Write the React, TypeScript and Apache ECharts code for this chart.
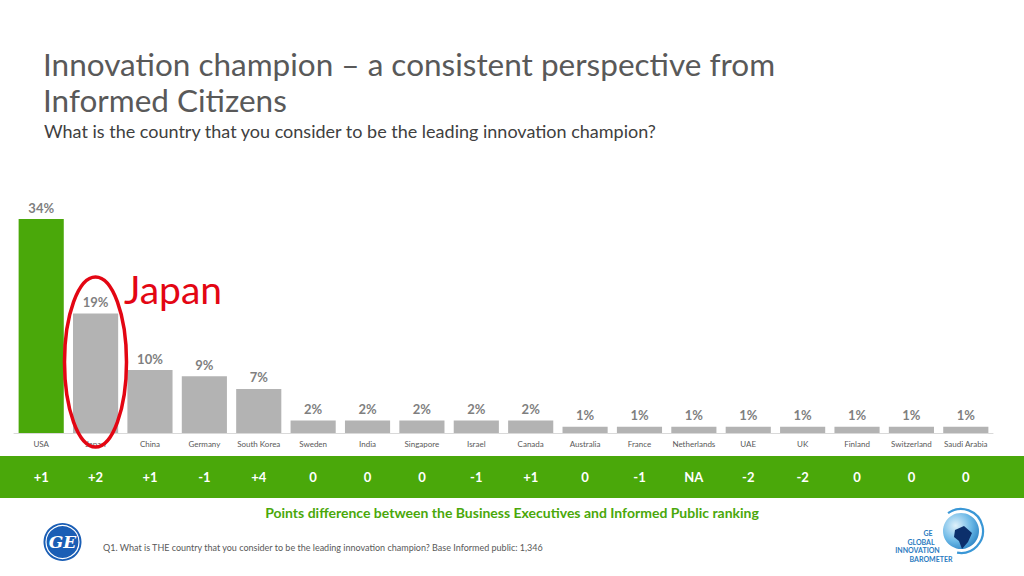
import React, { useEffect, useRef } from "react";
import * as echarts from "echarts";

const countries = ["USA", "Japan", "China", "Germany", "South Korea", "Sweden", "India", "Singapore", "Israel", "Canada", "Australia", "France", "Netherlands", "UAE", "UK", "Finland", "Switzerland", "Saudi Arabia"];
const shares = [34, 19, 10, 9, 7, 2, 2, 2, 2, 2, 1, 1, 1, 1, 1, 1, 1, 1];
const pointDiffs = ["+1", "+2", "+1", "-1", "+4", "0", "0", "0", "-1", "+1", "0", "-1", "NA", "-2", "-2", "0", "0", "0"];
const highlighted = "USA";

const GREEN = "#4aa80a";
const GRAY_BAR = "#b3b3b3";
const FONT = "Lato, 'Open Sans', sans-serif";
const LOGO_BLUE = "#2b7bbf";

export default function App() {
  const ref = useRef<HTMLDivElement>(null);
  useEffect(() => {
    if (!ref.current) return;
    const chart = echarts.init(ref.current, null, { renderer: "svg" });
    const option = {
      animation: false,
      backgroundColor: "#ffffff",
      textStyle: { fontFamily: FONT },
      grid: { left: 14, right: 31, top: 219, bottom: 143, containLabel: false },
      xAxis: [
        {
          type: "category",
          data: countries,
          axisLine: { show: true, lineStyle: { color: "#d9d9d9", width: 1 } },
          axisTick: { show: false },
          axisLabel: { interval: 0, fontSize: 8, color: "#595959", margin: 7, fontFamily: FONT },
          z: 5,
        },
        {
          type: "category",
          data: pointDiffs,
          position: "bottom",
          offset: 37,
          axisLine: { show: false },
          axisTick: { show: false },
          axisLabel: { interval: 0, fontSize: 13, fontWeight: "bold", color: "#ffffff", margin: 0, fontFamily: FONT },
          z: 10,
        },
      ],
      yAxis: { type: "value", min: 0, max: 34, show: false },
      series: [
        {
          type: "bar",
          xAxisIndex: 0,
          barCategoryGap: "17%",
          data: shares.map((v, i) => ({
            value: v,
            itemStyle: { color: countries[i] === highlighted ? GREEN : GRAY_BAR },
          })),
          label: {
            show: true,
            position: "top",
            distance: 5,
            formatter: "{c}%",
            fontSize: 13,
            fontWeight: "bold",
            color: "#7f7f7f",
            fontFamily: FONT,
          },
        },
      ],
      graphic: [
        { type: "rect", z: -10, shape: { x: 0, y: 456, width: 1024, height: 42 }, style: { fill: GREEN } },
        { type: "text", x: 43, y: 64, style: { text: "Innovation champion – a consistent perspective from", fontSize: 31.5, fontFamily: FONT, fill: "#595959", verticalAlign: "middle" } },
        { type: "text", x: 43, y: 100, style: { text: "Informed Citizens", fontSize: 31.5, fontFamily: FONT, fill: "#595959", verticalAlign: "middle" } },
        { type: "text", x: 44, y: 131, style: { text: "What is the country that you consider to be the leading innovation champion?", fontSize: 18, fontFamily: FONT, fill: "#404040", verticalAlign: "middle" } },
        { type: "text", x: 512, y: 512, style: { text: "Points difference between the Business Executives and Informed Public ranking", fontSize: 14, fontWeight: "bold", fontFamily: FONT, fill: GREEN, align: "center", verticalAlign: "middle" } },
        { type: "text", x: 103, y: 547, style: { text: "Q1. What is THE country that you consider to be the leading innovation champion? Base Informed public: 1,346", fontSize: 9, fontFamily: FONT, fill: "#595959", verticalAlign: "middle" } },
        { type: "text", x: 124, y: 289, z: 20, style: { text: "Japan", fontSize: 39, fontFamily: FONT, fill: "#e30613", verticalAlign: "middle" } },
        { type: "ellipse", z: 20, shape: { cx: 95.5, cy: 362, rx: 31, ry: 85 }, style: { fill: "none", stroke: "#e30613", lineWidth: 3.5 } },
        // GE logo
        { type: "circle", shape: { cx: 62.5, cy: 542, r: 19 }, style: { fill: "#1a5eb5" } },
        { type: "circle", shape: { cx: 62.5, cy: 542, r: 16.5 }, style: { fill: "none", stroke: "#ffffff", lineWidth: 1.2 } },
        { type: "text", x: 62.5, y: 542, style: { text: "GE", fontSize: 17, fontStyle: "italic", fontWeight: "bold", fontFamily: "'DejaVu Serif', serif", fill: "#ffffff", align: "center", verticalAlign: "middle" } },
        // Barometer logo
        { type: "arc", shape: { cx: 961, cy: 531, r: 22, startAngle: -2.2, endAngle: 1.75 }, style: { stroke: "#3a97d6", lineWidth: 2.2, fill: "none" } },
        {
          type: "circle",
          shape: { cx: 961, cy: 531, r: 18 },
          style: {
            fill: new echarts.graphic.RadialGradient(0.35, 0.35, 0.8, [
              { offset: 0, color: "#dff1fb" },
              { offset: 0.55, color: "#6bb8e6" },
              { offset: 1, color: "#1f78bd" },
            ]),
          },
        },
        { type: "polygon", shape: { points: [[955, 530], [964, 526], [972, 533], [968, 542], [962, 549], [959, 541], [954, 537]] }, style: { fill: "#0c2f6b" } },
        { type: "text", x: 928, y: 533, style: { text: "GE", fontSize: 7, fontWeight: "bold", fontFamily: FONT, fill: LOGO_BLUE, align: "center", verticalAlign: "middle" } },
        { type: "text", x: 921, y: 541.5, style: { text: "GLOBAL", fontSize: 7, fontWeight: "bold", fontFamily: FONT, fill: LOGO_BLUE, align: "center", verticalAlign: "middle" } },
        { type: "text", x: 917.5, y: 550, style: { text: "INNOVATION", fontSize: 7, fontWeight: "bold", fontFamily: FONT, fill: LOGO_BLUE, align: "center", verticalAlign: "middle" } },
        { type: "text", x: 931, y: 558.5, style: { text: "BAROMETER", fontSize: 7, fontWeight: "bold", fontFamily: FONT, fill: LOGO_BLUE, align: "center", verticalAlign: "middle" } },
      ],
    };
    chart.setOption(option as any);
    return () => chart.dispose();
  }, []);
  return <div ref={ref} style={{ position: "fixed", left: 0, top: 0, width: 1024, height: 576 }} />;
}
